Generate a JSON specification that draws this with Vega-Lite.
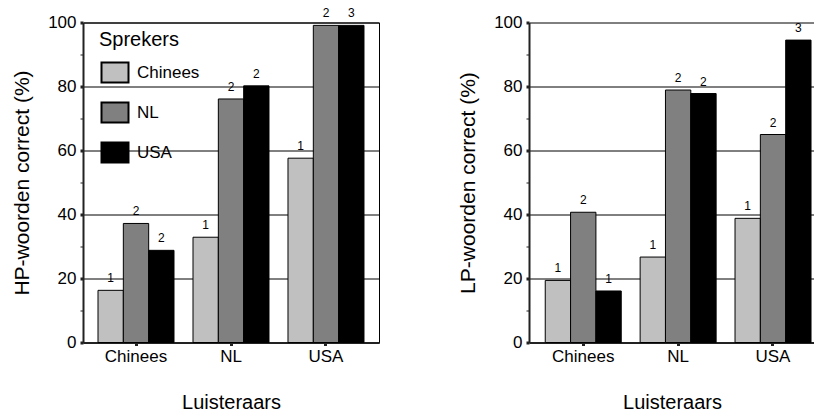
{
  "$schema": "https://vega.github.io/schema/vega-lite/v6.json",
  "padding": {"left": 11, "top": 6.5, "right": 0, "bottom": 0},
  "spacing": 77,
  "datasets": {
    "hp": [
      {"luisteraar": "Chinees", "spreker": "Chinees", "pct": 16.3, "sig": "1"},
      {"luisteraar": "Chinees", "spreker": "NL", "pct": 37.2, "sig": "2"},
      {"luisteraar": "Chinees", "spreker": "USA", "pct": 28.8, "sig": "2"},
      {"luisteraar": "NL", "spreker": "Chinees", "pct": 32.9, "sig": "1"},
      {"luisteraar": "NL", "spreker": "NL", "pct": 76.1, "sig": "2"},
      {"luisteraar": "NL", "spreker": "USA", "pct": 80.2, "sig": "2"},
      {"luisteraar": "USA", "spreker": "Chinees", "pct": 57.6, "sig": "1"},
      {"luisteraar": "USA", "spreker": "NL", "pct": 99.1, "sig": "2"},
      {"luisteraar": "USA", "spreker": "USA", "pct": 99.1, "sig": "3"}
    ],
    "lp": [
      {"luisteraar": "Chinees", "spreker": "Chinees", "pct": 19.4, "sig": "1"},
      {"luisteraar": "Chinees", "spreker": "NL", "pct": 40.7, "sig": "2"},
      {"luisteraar": "Chinees", "spreker": "USA", "pct": 16.1, "sig": "1"},
      {"luisteraar": "NL", "spreker": "Chinees", "pct": 26.7, "sig": "1"},
      {"luisteraar": "NL", "spreker": "NL", "pct": 78.9, "sig": "2"},
      {"luisteraar": "NL", "spreker": "USA", "pct": 77.8, "sig": "2"},
      {"luisteraar": "USA", "spreker": "Chinees", "pct": 38.8, "sig": "1"},
      {"luisteraar": "USA", "spreker": "NL", "pct": 65.0, "sig": "2"},
      {"luisteraar": "USA", "spreker": "USA", "pct": 94.5, "sig": "3"}
    ]
  },
  "config": {
    "font": "Liberation Sans",
    "view": {"stroke": "black", "strokeWidth": 1},
    "axis": {
      "labelFont": "Liberation Sans",
      "titleFont": "Liberation Sans",
      "labelFontSize": 17,
      "labelColor": "black",
      "titleFontSize": 21,
      "titleFontWeight": "normal",
      "titleColor": "black",
      "domainColor": "#222222",
      "domainWidth": 2,
      "tickColor": "#222222"
    },
    "legend": {
      "labelFont": "Liberation Sans",
      "titleFont": "Liberation Sans"
    }
  },
  "resolve": {"scale": {"color": "independent"}, "legend": {"color": "independent"}},
  "hconcat": [
    {
      "width": 296,
      "height": 320,
      "data": {"name": "hp"},
      "encoding": {
        "x": {
          "field": "luisteraar", "type": "nominal", "sort": ["Chinees", "NL", "USA"],
          "scale": {"paddingInner": 0.2, "paddingOuter": 0.158, "align": 0.5},
          "axis": {"title": "Luisteraars", "labelAngle": 0, "tickSize": 3, "tickWidth": 3, "labelPadding": 3, "titlePadding": 28, "titleFontSize": 20}
        },
        "xOffset": {"field": "spreker", "type": "nominal", "sort": ["Chinees", "NL", "USA"], "scale": {"paddingInner": 0, "paddingOuter": 0}},
        "y": {
          "field": "pct", "type": "quantitative",
          "scale": {"domain": [0, 100], "nice": false},
          "axis": {
            "title": "HP-woorden correct (%)",
            "values": [0, 10, 20, 30, 40, 50, 60, 70, 80, 90, 100],
            "labelExpr": "datum.value % 20 === 0 ? datum.label : ''",
            "tickSize": 3,
            "tickWidth": {"condition": {"test": "datum.value % 20 === 0", "value": 3}, "value": 1},
            "grid": true,
            "gridColor": "black",
            "gridOpacity": {"condition": {"test": "datum.value % 20 === 0", "value": 1}, "value": 0},
            "labelPadding": 4,
            "titlePadding": 15
          }
        }
      },
      "layer": [
        {
          "mark": {"type": "bar", "stroke": "black", "strokeWidth": 1},
          "encoding": {
            "color": {
              "field": "spreker", "type": "nominal",
              "scale": {"domain": ["Chinees", "NL", "USA"], "range": ["#c0c0c0", "#808080", "#000000"]},
              "legend": {
                "title": "Sprekers",
                "orient": "none",
                "legendX": 16,
                "legendY": 7,
                "titleFontSize": 20,
                "titleFontWeight": "normal",
                "titleColor": "black",
                "titlePadding": 12,
                "labelFontSize": 17,
                "labelColor": "black",
                "labelOffset": 16,
                "symbolType": "M-0.85,-1H1.85V1H-0.85Z",
                "symbolSize": 400,
                "symbolStrokeColor": "black",
                "symbolStrokeWidth": 2,
                "rowPadding": 12
              }
            }
          }
        },
        {
          "mark": {"type": "text", "dy": -12, "fontSize": 12, "baseline": "middle", "fill": "black"},
          "encoding": {"text": {"field": "sig"}}
        }
      ]
    },
    {
      "width": 286,
      "height": 320,
      "view": {"stroke": null},
      "data": {"name": "lp"},
      "encoding": {
        "x": {
          "field": "luisteraar", "type": "nominal", "sort": ["Chinees", "NL", "USA"],
          "scale": {"paddingInner": 0.2, "paddingOuter": 0.107, "align": 0.8},
          "axis": {"title": "Luisteraars", "labelAngle": 0, "tickSize": 3, "tickWidth": 3, "labelPadding": 3, "titlePadding": 28, "titleFontSize": 20}
        },
        "xOffset": {"field": "spreker", "type": "nominal", "sort": ["Chinees", "NL", "USA"], "scale": {"paddingInner": 0, "paddingOuter": 0}},
        "y": {
          "field": "pct", "type": "quantitative",
          "scale": {"domain": [0, 100], "nice": false},
          "axis": {
            "title": "LP-woorden correct (%)",
            "values": [0, 10, 20, 30, 40, 50, 60, 70, 80, 90, 100],
            "labelExpr": "datum.value % 20 === 0 ? datum.label : ''",
            "tickSize": 3,
            "tickWidth": {"condition": {"test": "datum.value % 20 === 0", "value": 3}, "value": 1},
            "grid": true,
            "gridColor": "black",
            "gridOpacity": {"condition": {"test": "datum.value % 20 === 0", "value": 1}, "value": 0},
            "labelPadding": 4,
            "titlePadding": 15
          }
        }
      },
      "layer": [
        {
          "mark": {"type": "bar", "stroke": "black", "strokeWidth": 1},
          "encoding": {
            "color": {
              "field": "spreker", "type": "nominal",
              "scale": {"domain": ["Chinees", "NL", "USA"], "range": ["#c0c0c0", "#808080", "#000000"]},
              "legend": null
            }
          }
        },
        {
          "mark": {"type": "text", "dy": -12, "fontSize": 12, "baseline": "middle", "fill": "black"},
          "encoding": {"text": {"field": "sig"}}
        }
      ]
    }
  ]
}
